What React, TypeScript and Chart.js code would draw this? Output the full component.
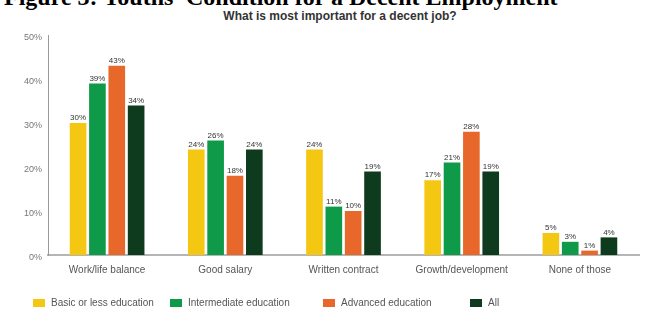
import React, { useEffect, useRef } from "react";
import { Chart, registerables } from "chart.js";

Chart.register(...registerables);

const categories = ["Work/life balance", "Good salary", "Written contract", "Growth/development", "None of those"];
const seriesNames = ["Basic or less education", "Intermediate education", "Advanced education", "All"];
const basicValues = [30, 24, 24, 17, 5];
const intermediateValues = [39, 26, 11, 21, 3];
const advancedValues = [43, 18, 10, 28, 1];
const allValues = [34, 24, 19, 19, 4];
const seriesColors = ["#F4C713", "#0F9A4A", "#E8682C", "#0E3A1E"];
const yTicks = [0, 10, 20, 30, 40, 50];

const FONT = "'Liberation Sans', Arial, sans-serif";

const valueLabels = {
  id: "valueLabels",
  afterDatasetsDraw(chart: any) {
    const ctx = chart.ctx;
    ctx.save();
    ctx.font = `8px ${FONT}`;
    ctx.fillStyle = "#333";
    ctx.textAlign = "center";
    ctx.textBaseline = "bottom";
    chart.data.datasets.forEach((ds: any, di: number) => {
      const meta = chart.getDatasetMeta(di);
      meta.data.forEach((bar: any, i: number) => {
        ctx.fillText(`${ds.data[i]}%`, bar.x, bar.y - 1);
      });
    });
    ctx.restore();
  },
};

export default function App() {
  const ref = useRef<HTMLCanvasElement>(null);
  useEffect(() => {
    if (!ref.current) return;
    const data = [basicValues, intermediateValues, advancedValues, allValues];
    const chart = new Chart(ref.current, {
      type: "bar",
      data: {
        labels: categories,
        datasets: seriesNames.map((n, i) => ({
          label: n,
          data: data[i],
          backgroundColor: seriesColors[i],
          borderWidth: 0,
          categoryPercentage: 0.655,
          barPercentage: 0.86,
        })),
      },
      options: {
        responsive: false,
        animation: false,
        layout: { padding: { left: 0, right: 15, top: 35, bottom: 0 } },
        plugins: {
          legend: { display: false },
          title: { display: false },
          tooltip: { enabled: false },
        },
        scales: {
          x: {
            grid: { display: false, drawTicks: false },
            border: { display: true, color: "#b5b5b5", width: 2 },
            ticks: { font: { family: FONT, size: 10 }, color: "#555", padding: 9, maxRotation: 0 },
            afterFit(scale: any) {
              scale.height = 67;
            },
          },
          y: {
            min: 0,
            max: 50,
            afterBuildTicks(scale: any) {
              scale.ticks = yTicks.map((v) => ({ value: v }));
            },
            grid: { display: false, drawTicks: false },
            border: { display: true, color: "#9a9a9a", width: 1 },
            ticks: {
              font: { family: FONT, size: 9 },
              color: "#777",
              padding: 6,
              labelOffset: 3,
              callback: (v: any) => `${v}%`,
            },
            afterFit(scale: any) {
              scale.width = 48;
            },
          },
        },
      },
      plugins: [valueLabels],
    });
    return () => chart.destroy();
  }, []);

  const legendLeft = [33, 170, 323, 470];
  return (
    <div style={{ position: "absolute", left: 0, top: 0, width: 654, height: 322, overflow: "hidden", background: "#fff" }}>
      <div
        style={{
          position: "absolute",
          left: 4,
          top: -15,
          fontFamily: "'Liberation Serif', 'Times New Roman', serif",
          fontWeight: "bold",
          fontSize: 24,
          lineHeight: "24px",
          whiteSpace: "nowrap",
          color: "#000",
        }}
      >
        Figure 3: Youths' Condition for a Decent Employment
      </div>
      <div
        style={{
          position: "absolute",
          left: 0,
          width: 680,
          top: 10,
          textAlign: "center",
          fontFamily: FONT,
          fontWeight: "bold",
          fontSize: 12,
          lineHeight: "13px",
          color: "#333",
          whiteSpace: "nowrap",
        }}
      >
        What is most important for a decent job?
      </div>
      <canvas ref={ref} width={654} height={322} style={{ position: "absolute", left: 0, top: 0 }} />
      {seriesNames.map((n, i) => (
        <div
          key={n}
          style={{
            position: "absolute",
            left: legendLeft[i],
            top: 297,
            display: "flex",
            alignItems: "center",
            fontFamily: FONT,
            fontSize: 10,
            lineHeight: "12px",
            color: "#555",
            whiteSpace: "nowrap",
          }}
        >
          <span style={{ display: "inline-block", width: 12, height: 8, background: seriesColors[i], marginRight: 6 }} />
          {n}
        </div>
      ))}
    </div>
  );
}
